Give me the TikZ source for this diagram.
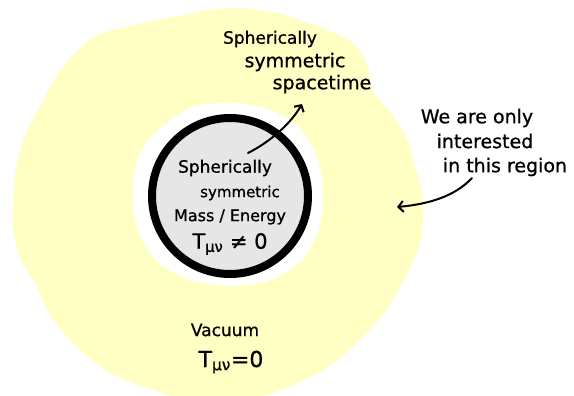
\documentclass[tikz,border=0pt]{standalone}
\usepackage{fontspec}
\setmainfont{DejaVu Sans}
\newfontfamily\handfont{DejaVu Sans}[FakeBold=0.8]
\usetikzlibrary{arrows.meta, positioning}
\definecolor{vacuumYellow}{RGB}{255,255,196}
\definecolor{massGrey}{RGB}{230,230,230}
\tikzset{
  hand/.style={font=\handfont\fontsize{17}{20}\selectfont, inner sep=0pt},
  handbig/.style={font=\handfont\fontsize{19}{22}\selectfont, inner sep=0pt},
  pointer/.style={line width=2pt, line cap=round, -{Straight Barb[length=5pt, width=11pt]}}
}

\begin{document}
\begin{tikzpicture}[x=1pt, y=-1pt]
  \useasboundingbox (0,0) rectangle (574,396);

  % Vacuum region (wobbly blob)
  \fill[vacuumYellow] plot[smooth cycle] coordinates {
    (230,8) (277,13) (327,30) (352,42) (366,62) (373,92) (390,112)
    (405,135) (415,165) (423,200) (421,239) (410,268) (395,296)
    (377,322) (345,354) (318,373) (280,390) (240,401) (190,400)
    (150,389) (110,373) (78,348) (52,318) (36,285) (20,258) (13,225)
    (15,175) (25,136) (42,103) (62,68) (96,36) (140,24) (183,15)};

  % White gap round the mass
  \fill[white] plot[smooth cycle] coordinates {
    (230,103) (268,109) (300,128) (318,160) (323,196) (318,232) (300,262)
    (268,281) (230,286) (190,280) (160,264) (141,238) (133,205) (136,165)
    (152,136) (190,108)};

  % Mass
  \node[circle, draw, line width=8pt, fill=massGrey, minimum size=156pt, inner sep=0pt] (mass) at (230,196) {};

  \node[hand] (massL1) at (225,168) {Spherically};
  \node[hand, font=\handfont\fontsize{15}{18}\selectfont] (massL2) at (240,193) {symmetric};
  \node[hand, font=\handfont\fontsize{16}{19}\selectfont] (massL3) at (230,217) {Mass / Energy};
  \node[hand, font=\handfont\fontsize{21}{24}\selectfont] (massL4) at (230,244) {T\textsubscript{μν} ≠ 0};

  % Spacetime label
  \node[hand] (spaceL1) at (270,39) {Spherically};
  \node[handbig] (spaceL2) at (295,62) {symmetric};
  \node[handbig] (spaceL3) at (322,84) {spacetime};

  % Region label
  \node[handbig] (regionL1) at (477,118) {We are only};
  \node[handbig] (regionL2) at (485,141) {interested};
  \node[handbig] (regionL3) at (505,167) {in this region};

  % Vacuum label
  \node[hand] (vacL1) at (225,330) {Vacuum};
  \node[hand, font=\handfont\fontsize{22}{24}\selectfont] (vacL2) at (231,362) {T\textsubscript{μν}=0};

  % Arrows
  \coordinate (massTail) at (248,153);
  \coordinate (spaceHead) at (302,104);
  \draw[pointer] (massTail) .. controls (268,143) and (290,125) .. (spaceHead);

  \coordinate (regionTail) at (472,178);
  \coordinate (vacuumHead) at (397,207);
  \draw[pointer] (regionTail) .. controls (455,196) and (430,204) .. (vacuumHead);
\end{tikzpicture}
\end{document}
